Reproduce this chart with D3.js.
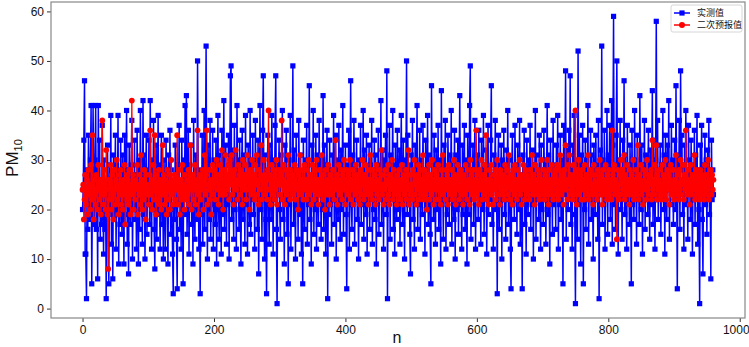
<!DOCTYPE html>
<html>
<head>
<meta charset="utf-8">
<script src="https://cdn.jsdelivr.net/npm/d3@7"></script>
<style>
  body { margin: 0; background: #fff; }
  svg { display: block; font-family: "Liberation Sans", Arial, sans-serif; }
</style>
</head>
<body>
<svg id="chart" width="749" height="347"></svg>
<script>
var measured = [
  20,24,34,46,11,11,2,28,16,35,24,18,30,41,5,22,41,27,17,30,
  41,16,29,6,41,20,34,14,26,17,37,22,11,30,16,25,2,24,33,19,
  5,29,21,39,13,27,6,31,18,24,35,12,28,20,39,9,26,17,34,22,
  15,31,24,9,35,19,28,40,13,25,7,33,21,17,29,38,10,26,20,34,
  18,27,12,36,23,9,30,16,40,21,26,13,42,19,31,10,24,35,15,28,
  22,34,17,42,25,12,30,20,38,16,8,27,33,14,24,39,19,29,12,26,
  35,17,23,10,30,21,12,34,26,19,9,31,22,36,15,28,20,11,3,25,
  18,33,27,14,4,29,21,37,16,25,12,34,22,5,30,19,41,26,43,15,
  24,36,11,29,20,33,17,26,9,38,22,14,31,25,18,50,27,12,21,3,
  28,19,35,13,24,40,16,30,53,22,10,33,25,18,38,14,27,21,36,12,
  30,23,17,34,9,26,39,20,14,31,24,11,36,19,28,42,16,25,33,13,
  27,21,35,10,29,47,49,18,32,23,14,37,20,26,12,41,24,30,16,34,
  22,9,28,36,18,31,25,13,39,21,27,11,33,24,17,40,15,29,22,35,
  19,26,12,38,23,30,16,34,7,25,41,20,28,14,36,47,22,10,31,18,
  3,27,35,21,13,33,24,18,39,26,11,30,22,37,47,16,1,29,23,34,
  20,14,31,25,40,18,28,9,33,22,36,15,27,5,30,21,39,12,26,24,
  49,17,32,23,10,35,20,28,14,38,25,19,31,11,27,5,34,22,16,30,
  24,37,13,29,21,45,18,26,9,33,22,40,15,28,20,35,12,31,25,17,
  38,23,30,14,27,20,43,16,33,24,11,29,36,2,25,19,34,21,28,13,
  31,22,39,17,26,35,10,30,23,18,37,24,14,32,20,28,41,15,27,22,
  33,19,4,29,24,36,12,27,46,21,16,31,25,38,13,28,22,34,18,26,
  10,30,23,37,17,27,21,40,14,32,25,19,35,11,28,22,33,16,29,24,
  38,13,26,20,34,18,31,9,27,23,36,15,29,22,42,17,25,32,12,30,
  21,35,19,48,2,28,24,37,14,31,22,26,40,16,29,11,33,23,18,36,
  25,20,32,13,28,39,22,17,34,24,10,30,27,50,19,35,21,29,15,7,
  31,24,38,18,26,12,33,22,29,41,16,27,21,36,14,30,25,19,37,23,
  28,11,34,20,26,39,17,31,23,15,5,45,22,29,18,35,24,13,32,27,
  20,37,16,30,25,9,44,21,28,14,33,23,38,12,27,19,35,24,17,31,
  22,40,13,29,26,18,36,10,31,24,20,34,15,28,43,21,25,12,33,19,
  27,37,16,30,22,9,35,24,19,41,49,14,28,23,33,17,26,38,12,29,
  24,31,18,36,21,27,13,34,25,20,39,15,29,23,32,11,26,37,19,28,
  22,34,45,17,27,12,31,24,38,20,26,3,29,35,16,25,21,33,10,30,
  24,36,19,28,14,32,22,40,17,26,30,12,4,27,35,21,25,18,37,23,
  29,15,33,26,20,38,13,27,24,4,31,22,36,17,28,11,34,25,19,30,
  23,37,16,27,21,32,10,29,25,40,14,31,22,26,18,35,24,12,33,20,
  28,17,36,23,30,13,26,41,19,31,24,9,34,22,27,15,38,21,29,25,
  16,33,24,39,12,28,21,35,18,30,26,5,37,23,29,48,14,32,25,20,
  36,22,47,17,28,12,33,24,39,19,1,30,26,14,52,21,35,25,9,31,
  23,37,5,28,20,34,16,30,25,41,13,27,22,36,18,31,24,10,33,26,
  19,35,22,29,14,38,2,27,32,24,53,17,30,21,36,12,28,25,40,15,
  31,23,37,18,27,42,13,33,59,21,29,16,35,50,24,11,30,26,38,20,
  28,14,34,23,46,19,31,25,12,37,22,29,17,33,26,5,36,21,27,18,
  40,24,30,13,35,22,28,17,43,26,20,33,11,29,24,38,16,31,23,27,
  19,36,25,14,32,21,28,44,17,34,26,12,30,58,22,38,18,27,24,33,
  15,29,23,40,20,31,11,35,26,18,33,24,42,14,28,21,37,25,30,17,
  27,34,20,45,24,4,31,22,38,16,48,28,35,19,29,12,33,25,40,21,
  26,14,37,23,30,18,34,25,11,29,22,36,17,31,24,39,13,28,20,1,
  33,24,37,18,7,29,26,35,21,30,15,32,24,38,19,27,6,34,22,28,
  23
];

// quadratic forecast values (red)
var forecast = [
  24,25,18,22,27,21,24,26,19,28,23,25,20,29,22,35,24,18,26,23,
  21,27,24,20,29,25,22,26,19,24,38,23,21,28,25,20,32,24,19,8,
  26,22,25,29,20,27,23,18,28,24,21,26,30,22,25,19,27,23,28,21,
  25,20,26,23,29,17,24,27,22,26,21,28,24,19,25,42,23,27,20,25,
  22,26,24,29,19,25,23,27,21,31,24,20,26,22,28,25,18,27,23,25,
  24,21,27,36,23,26,20,25,29,22,35,24,19,27,25,22,28,21,26,24,
  20,25,33,23,27,21,26,24,19,28,22,25,27,20,24,30,23,26,21,25,
  27,22,24,26,35,21,25,28,19,24,26,22,29,23,25,20,27,24,22,26,
  23,28,21,25,33,24,20,26,27,22,25,29,21,24,26,36,23,19,25,27,
  22,26,24,28,20,25,31,23,27,36,21,25,24,28,22,26,19,25,29,23,
  25,28,22,26,30,24,27,21,25,29,23,27,32,24,20,26,28,23,31,25,
  27,24,29,22,30,26,25,31,23,27,21,28,25,32,24,26,22,29,25,27,
  23,28,26,21,30,25,27,24,29,22,26,31,24,27,20,28,25,23,30,26,
  24,27,22,29,25,31,23,26,21,28,24,27,33,22,26,25,30,23,27,24,
  26,22,28,40,24,27,21,26,29,23,25,28,22,27,24,30,21,26,25,28,
  23,27,25,38,22,26,29,24,21,28,25,23,27,31,24,26,22,28,25,24,
  27,23,26,29,22,25,28,24,20,27,25,31,23,26,24,28,22,25,29,24,
  26,22,28,24,30,23,25,27,21,26,29,24,22,28,25,23,30,24,26,21,
  25,28,23,26,31,24,22,27,25,20,28,24,26,23,29,25,21,27,24,26,
  23,28,25,22,26,34,24,27,21,25,29,23,26,24,28,22,27,25,30,24,
  21,26,28,24,23,27,25,30,22,26,24,28,21,25,27,23,29,24,26,22,
  27,24,21,28,25,23,30,26,22,27,24,29,23,25,28,21,26,24,31,23,
  26,22,28,25,24,27,21,29,23,26,25,22,28,24,27,32,23,25,21,27,
  24,28,22,26,25,29,23,21,27,24,26,30,22,25,28,23,26,24,21,27,
  25,23,28,22,26,24,29,21,27,25,23,26,28,22,24,27,32,21,25,23,
  27,24,22,28,25,30,23,26,21,27,24,29,22,25,28,23,26,24,31,22,
  25,28,23,26,20,27,24,29,22,25,27,23,30,24,21,26,28,25,22,27,
  24,29,22,26,25,21,28,24,31,23,26,25,22,28,24,27,21,29,25,23,
  26,24,28,22,25,30,23,27,21,26,24,29,25,22,27,24,28,23,26,21,
  27,25,23,29,24,22,28,25,26,21,30,24,27,23,25,28,22,26,24,36,
  23,27,25,21,28,24,26,30,22,25,27,23,29,24,35,22,26,25,21,28,
  24,26,29,23,25,21,27,24,28,22,26,30,23,25,27,21,28,24,26,23,
  27,25,22,29,24,26,28,23,25,31,22,26,24,27,21,28,25,23,29,24,
  26,22,28,25,24,30,23,27,21,26,24,29,25,22,28,24,27,23,26,25,
  22,28,24,26,31,23,25,27,21,29,24,26,23,28,25,22,27,24,30,23,
  26,24,28,22,25,27,23,30,24,21,28,25,26,23,29,24,22,27,25,28,
  23,26,29,24,22,28,25,31,23,26,24,27,21,28,25,33,24,26,22,29,
  25,31,23,27,24,26,22,29,25,23,40,26,21,28,24,30,23,25,27,22,
  28,24,26,22,29,25,23,27,24,31,22,26,25,28,23,27,24,21,29,25,
  23,27,25,22,28,24,26,30,23,25,27,21,28,24,26,23,29,25,22,27,
  24,28,23,26,25,22,36,27,24,29,23,26,25,14,28,24,22,27,25,30,
  23,26,28,24,31,22,27,25,23,29,24,26,21,28,25,23,27,24,30,22,
  26,24,28,23,25,33,22,27,24,26,29,23,25,21,28,24,27,25,22,30,
  24,27,23,26,25,28,22,34,24,26,23,29,25,33,22,27,24,26,28,23,
  25,22,29,24,27,23,26,30,22,25,28,24,27,21,26,29,23,25,24,28,
  22,26,24,31,23,27,25,22,28,24,30,23,26,25,29,22,27,24,36,25,
  23,28,24,26,21,29,25,23,27,24,26,31,22,25,28,23,27,24,26,22,
  28,25,23,27,24,26,22,29,25,23,27,24,30,22,26,25,28,23,27,24,
  26
];

var xTicks = [0, 200, 400, 600, 800, 1000];
var yTicks = [0, 10, 20, 30, 40, 50, 60];
var legendLabels = ["实测值", "二次预报值"];

var svg = d3.select("#chart");
var w = 749, h = 347;
var margin = {left: 51, right: 4, top: 2, bottom: 29};

var xScale = d3.scaleLinear().domain([-48, 1008]).range([margin.left, w - margin.right]);
var yScale = d3.scaleLinear().domain([-1.9, 61.9]).range([h - margin.bottom, margin.top]);

// clip the plot area
svg.append("defs").append("clipPath").attr("id", "clip")
    .append("rect")
    .attr("x", margin.left).attr("y", margin.top)
    .attr("width", w - margin.left - margin.right)
    .attr("height", h - margin.top - margin.bottom);

var plot = svg.append("g").attr("clip-path", "url(#clip)");

var line = d3.line()
    .x((d, i) => xScale(i))
    .y(d => yScale(d));

// blue measured series
plot.append("path")
    .datum(measured)
    .attr("d", line)
    .style("fill", "none")
    .style("stroke", "#0000ff")
    .style("stroke-width", 1.5);

plot.selectAll(".sq")
    .data(measured)
    .enter().append("rect")
    .attr("class", "sq")
    .attr("x", (d, i) => xScale(i) - 2.6)
    .attr("y", d => yScale(d) - 2.6)
    .attr("width", 5.2)
    .attr("height", 5.2)
    .style("fill", "#0000ff");

// red forecast series
plot.append("path")
    .datum(forecast)
    .attr("d", line)
    .style("fill", "none")
    .style("stroke", "#ff0000")
    .style("stroke-width", 1.3);

plot.selectAll(".dot")
    .data(forecast)
    .enter().append("circle")
    .attr("class", "dot")
    .attr("cx", (d, i) => xScale(i))
    .attr("cy", d => yScale(d))
    .attr("r", 2.9)
    .style("fill", "#ff0000");

// axes
var xAxis = svg.append("g")
    .attr("transform", `translate(0,${h - margin.bottom})`)
    .call(d3.axisBottom(xScale).tickValues(xTicks).tickFormat(d3.format("d"))
        .tickSize(4).tickPadding(3).tickSizeOuter(0));

var yAxis = svg.append("g")
    .attr("transform", `translate(${margin.left},0)`)
    .call(d3.axisLeft(yScale).tickValues(yTicks).tickSize(4).tickPadding(3).tickSizeOuter(0));

[xAxis, yAxis].forEach(function(a) {
    a.select(".domain").remove();
    a.selectAll("line").style("stroke", "#333");
    a.selectAll("text")
        .style("font-size", "12px")
        .style("fill", "#111")
        .style("font-family", "'Liberation Sans', Arial, sans-serif");
});

// last label sits at the window edge, nudge it inside
xAxis.selectAll(".tick text").filter(d => d === 1000).attr("dx", -4);

// frame
svg.append("rect")
    .attr("x", margin.left).attr("y", margin.top)
    .attr("width", w - margin.left - margin.right)
    .attr("height", h - margin.top - margin.bottom)
    .style("fill", "none")
    .style("stroke", "#888")
    .style("stroke-width", 1.2);

// axis labels
svg.append("text")
    .attr("x", 397)
    .attr("y", 343)
    .attr("text-anchor", "middle")
    .style("font-size", "16px")
    .style("fill", "#111")
    .text("n");

var yLab = svg.append("text")
    .attr("transform", "translate(18,158) rotate(-90)")
    .attr("text-anchor", "middle")
    .style("font-size", "17px")
    .style("fill", "#111");
yLab.append("tspan").text("PM");
yLab.append("tspan").attr("dy", 4).style("font-size", "11px").text("10");

// legend
var legend = svg.append("g").attr("class", "legend").attr("transform", "translate(671,5)");
legend.append("rect")
    .attr("width", 71).attr("height", 27)
    .attr("rx", 2)
    .style("fill", "#fff")
    .style("stroke", "#ccc")
    .style("stroke-width", 0.8);

var legendData = [
    {label: legendLabels[0], color: "#0000ff", shape: "square"},
    {label: legendLabels[1], color: "#ff0000", shape: "circle"}
];

var item = legend.selectAll(".legend-item")
    .data(legendData)
    .enter().append("g")
    .attr("class", "legend-item")
    .attr("transform", (d, i) => `translate(0,${8 + i * 12})`);

item.append("line")
    .attr("x1", 3).attr("x2", 19)
    .style("stroke", d => d.color)
    .style("stroke-width", 1.5);

item.filter(d => d.shape === "square").append("rect")
    .attr("x", 8.4).attr("y", -2.6).attr("width", 5.2).attr("height", 5.2)
    .style("fill", d => d.color);
item.filter(d => d.shape === "circle").append("circle")
    .attr("cx", 11).attr("r", 3)
    .style("fill", d => d.color);

item.append("text")
    .attr("x", 26)
    .attr("y", 3)
    .style("font-size", "9px")
    .style("font-family", "'Noto Sans CJK SC', sans-serif")
    .style("fill", "#111")
    .text(d => d.label);
</script>
</body>
</html>
